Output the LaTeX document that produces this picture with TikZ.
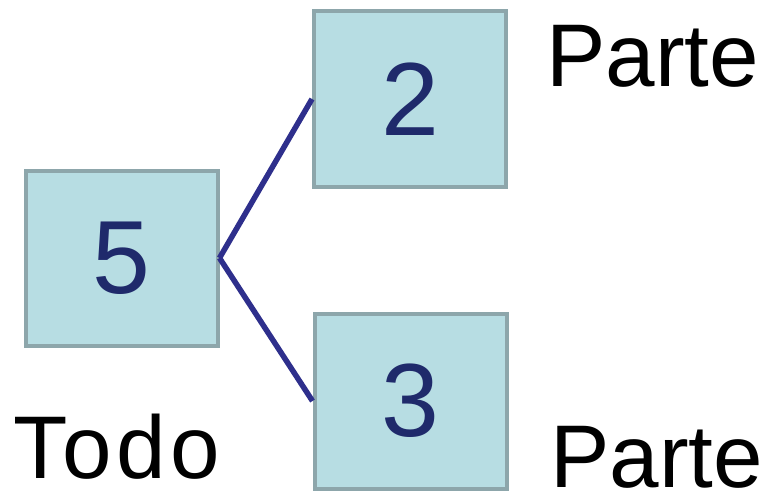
\documentclass[tikz,border=0pt]{standalone}
\usepackage{fontspec}
\setmainfont{Liberation Sans}
\definecolor{boxfill}{HTML}{B7DDE3}
\definecolor{boxline}{HTML}{8DA6AB}
\definecolor{linkblue}{HTML}{2E2F8C}
\definecolor{digitblue}{HTML}{1F2A6B}
\begin{document}
\begin{tikzpicture}[x=1pt,y=-1pt,
  numbox/.style={draw=boxline,line width=4pt,fill=boxfill,minimum width=192pt,minimum height=175pt,inner sep=0pt,
    font=\fontsize{104}{110}\selectfont,text=digitblue},
  lbl/.style={anchor=base west,inner sep=0pt,text depth=0pt,font=\fontsize{89}{100}\selectfont,text=black},
  link/.style={draw=linkblue,line width=5.5pt}]
\useasboundingbox[fill=white] (0,0) rectangle (767,492);
\node[numbox] (b5) at (121.5,258) {5};
\node[numbox] (b2) at (410,99) {2};
\node[numbox] (b3) at (410.5,401) {3};
\draw[link] (b5.east) -- (b2.west);
\draw[link] (b5.east) -- (b3.west);
\node[lbl] (p1) at (546,87) {Parte};
\node[lbl] (p2) at (550,487) {Parte};
\node[lbl] (t) at (13,478) {\addfontfeature{LetterSpace=5}Todo};
\end{tikzpicture}
\end{document}
